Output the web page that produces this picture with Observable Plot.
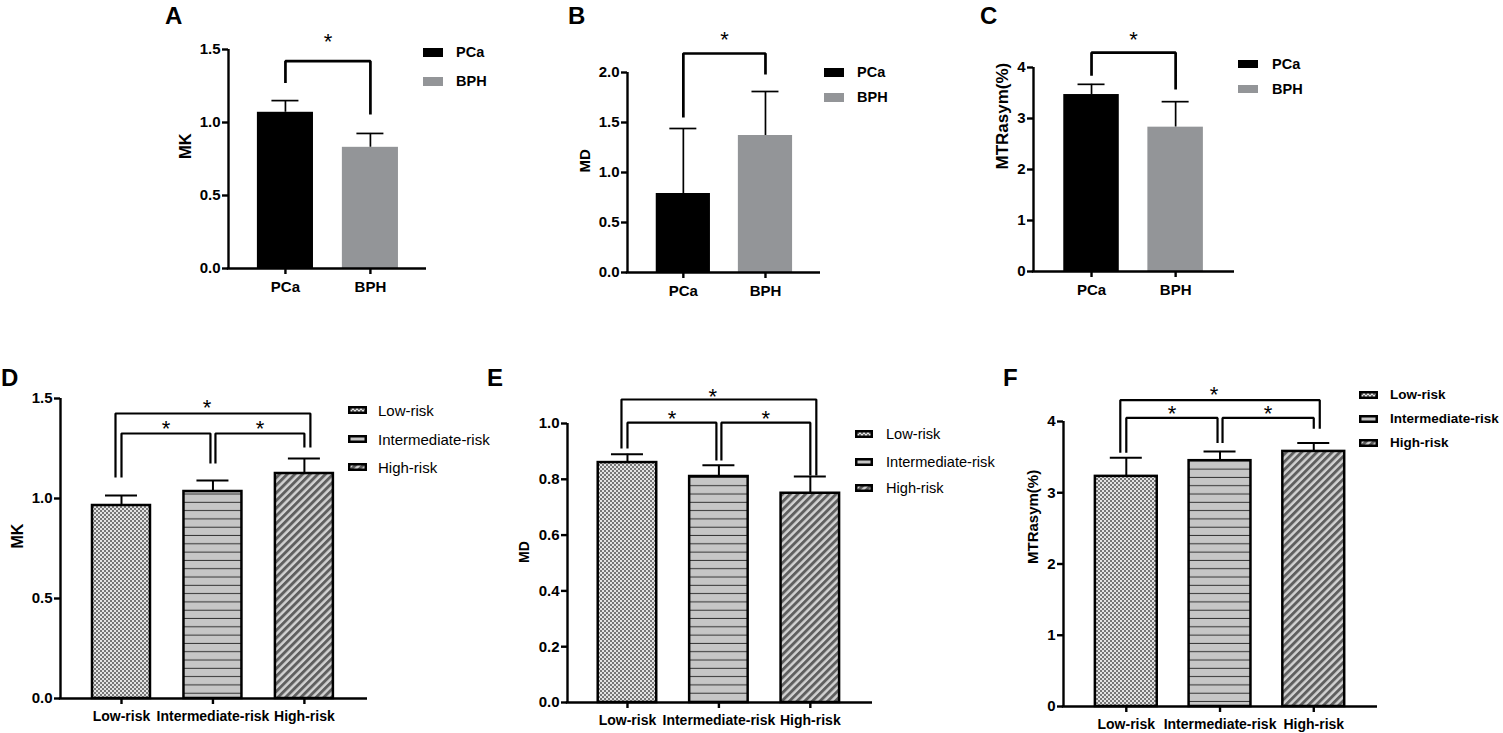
<!DOCTYPE html>
<html><head><meta charset="utf-8">
<script src="https://cdn.jsdelivr.net/npm/d3@7"></script>
<script src="https://cdn.jsdelivr.net/npm/@observablehq/plot@0.6"></script>
<style>
body{margin:0;background:#fff;font-family:"Liberation Sans",Arial,Helvetica,sans-serif;}
#root{position:relative;width:1503px;height:733px;overflow:hidden;background:#fff;}
.abs{position:absolute;}
.letter{font-weight:bold;font-size:24px;line-height:24px;color:#000;}
.lg{white-space:nowrap;color:#000;}
</style></head><body>
<svg width="0" height="0" style="position:absolute">
<defs>
<pattern id="pLow" patternUnits="userSpaceOnUse" width="4" height="4">
<rect width="4" height="4" fill="#e4e4e4"/>
<rect width="2" height="2" fill="#777"/>
<rect x="2" y="2" width="2" height="2" fill="#777"/>
</pattern>
<pattern id="pMid" patternUnits="userSpaceOnUse" width="8" height="8.3">
<rect width="8" height="8.3" fill="#c6c6c6"/>
<rect y="7.3" width="8" height="1" fill="#333"/>
</pattern>
<pattern id="pHigh" patternUnits="userSpaceOnUse" width="5.4" height="5.4" patternTransform="rotate(45)">
<rect width="5.4" height="5.4" fill="#d2d2d2"/>
<rect width="2.9" height="5.4" fill="#5f5f5f"/>
</pattern>
</defs></svg>
<div id="root"></div>
<script>
// ---------- data ----------
const groupsTop = ["PCa", "BPH"];
const mkTop = [1.07, 0.83];
const mkTopErr = [1.15, 0.925];
const mdTop = [0.79, 1.37];
const mdTopErr = [1.44, 1.81];
const mtrTop = [3.47, 2.83];
const mtrTopErr = [3.67, 3.33];

const groupsRisk = ["Low-risk", "Intermediate-risk", "High-risk"];
const mkRisk = [0.965, 1.035, 1.125];
const mkRiskErr = [1.015, 1.09, 1.2];
const mdRisk = [0.86, 0.81, 0.75];
const mdRiskErr = [0.89, 0.85, 0.81];
const mtrRisk = [3.23, 3.45, 3.58];
const mtrRiskErr = [3.49, 3.58, 3.70];

const ticksMK = [0, 0.5, 1.0, 1.5];
const ticksMDTop = [0, 0.5, 1.0, 1.5, 2.0];
const ticksMTR = [0, 1, 2, 3, 4];
const ticksMDRisk = [0, 0.2, 0.4, 0.6, 0.8, 1.0];

// significance brackets: from group, to group, bar level, leg bottoms
const bracketsA = [{kind: "single", from: 0, to: 1, y: 1.42, yFrom: 1.27, yTo: 1.055}];
const bracketsB = [{kind: "single", from: 0, to: 1, y: 2.19, yFrom: 1.55, yTo: 1.98}];
const bracketsC = [{kind: "single", from: 0, to: 1, y: 4.29, yFrom: 3.84, yTo: 3.57}];
const bracketsD = [
  {kind: "outer", from: 0, to: 2, y: 1.425, yFrom: 1.105, yTo: 1.255},
  {kind: "left", from: 0, to: 1, y: 1.325, yFrom: 1.105, yTo: 1.175},
  {kind: "right", from: 1, to: 2, y: 1.325, yFrom: 1.175, yTo: 1.255}
];
const bracketsE = [
  {kind: "outer", from: 0, to: 2, y: 1.086, yFrom: 0.91, yTo: 0.814},
  {kind: "left", from: 0, to: 1, y: 1.003, yFrom: 0.91, yTo: 0.867},
  {kind: "right", from: 1, to: 2, y: 1.003, yFrom: 0.867, yTo: 0.814}
];
const bracketsF = [
  {kind: "outer", from: 0, to: 2, y: 4.30, yFrom: 3.56, yTo: 3.90},
  {kind: "left", from: 0, to: 1, y: 4.05, yFrom: 3.56, yTo: 3.70},
  {kind: "right", from: 1, to: 2, y: 4.05, yFrom: 3.70, yTo: 3.90}
];
const starLabel = "*";

// ---------- styles ----------
const topFills = ["#000000", "#939598"];
const riskFills = ["url(#pLow)", "url(#pMid)", "url(#pHigh)"];
const topOffsets = {single: [0, 0]};
const riskOffsets = {outer: [-6, 6], left: [0, -2.5], right: [2.5, 0]};
const root = document.getElementById("root");

function panel(c) {
  const pxX = (c.plot.r - c.plot.l) / (c.xDomain[1] - c.xDomain[0]);
  const pxY = (c.plot.b - c.plot.t) / c.yMax;
  const ux = px => px / pxX;
  const uy = px => px / pxY;
  const n = c.groups.length;
  const rows = c.groups.map((g, i) => ({i, g, v: c.values[i], e: c.errs[i], fill: c.fills[i]}));
  const segs = [];
  const stars = [];
  c.brackets.forEach((b, k) => {
    const [oa, ob] = c.offsets[b.kind];
    const xa = b.from + ux(oa), xb = b.to + ux(ob);
    segs.push({k, x: xa, y: b.yFrom}, {k, x: xa, y: b.y}, {k, x: xb, y: b.y}, {k, x: xb, y: b.yTo});
    const gap = c.starGap[b.kind];
    stars.push({x: (xa + xb) / 2 + ux((c.starDx[b.kind] || 0)), y: b.y + uy(gap - 0.25 * c.starSize)});
  });
  const ml = c.plot.l - c.box.x, mt = c.plot.t - c.box.y;
  const mr = c.box.x + c.box.w - c.plot.r, mb = c.box.y + c.box.h - c.plot.b;
  const chart = Plot.plot({
    width: c.box.w, height: c.box.h,
    marginLeft: ml, marginRight: mr, marginTop: mt, marginBottom: mb,
    style: {background: "transparent", overflow: "visible", fontFamily: '"Liberation Sans", Arial, sans-serif', color: "#000"},
    x: {type: "linear", domain: c.xDomain},
    y: {type: "linear", domain: [0, c.yMax]},
    color: {type: "identity"},
    marks: [
      Plot.ruleX(rows, {x: "i", y1: "v", y2: "e", strokeWidth: c.errW, stroke: "#000"}),
      Plot.ruleY(rows, {y: "e", x1: d => d.i - ux(c.capPx / 2), x2: d => d.i + ux(c.capPx / 2), strokeWidth: c.errW, stroke: "#000"}),
      Plot.rectY(rows, {x1: d => d.i - c.barHalf, x2: d => d.i + c.barHalf, y1: 0, y2: "v", fill: "fill",
        stroke: c.barStroke, strokeWidth: c.barStrokeW}),
      Plot.line(segs, {x: "x", y: "y", z: "k", stroke: "#000", strokeWidth: c.brW, strokeLinejoin: "miter", strokeLinecap: "butt"}),
      Plot.text(stars, {x: "x", y: "y", text: () => starLabel, fontSize: c.starSize, fill: "#000"}),
      Plot.ruleX([c.xDomain[0]], {y1: 0, y2: c.yMax, strokeWidth: c.axW, stroke: "#000"}),
      Plot.ruleY([0], {x1: c.xDomain[0] - ux(c.axW / 2), x2: c.xDomain[1], strokeWidth: c.axW, stroke: "#000"}),
      Plot.axisY({ticks: c.yTicks, tickFormat: c.yFormat, tickSize: 6, tickPadding: 2, fontSize: c.yFont,
        fontWeight: "bold", strokeWidth: c.axW, label: null}),
      Plot.axisX({ticks: d3.range(n), tickFormat: i => c.groups[i], tickSize: 6, tickPadding: c.xPad, fontSize: c.xFont,
        fontWeight: "bold", strokeWidth: c.axW, label: null}),
      Plot.text([c.ylabel], {text: d => d, frameAnchor: "left", rotate: -90, dx: -c.labelOff,
        fontSize: c.labelSize, fontWeight: "bold", fill: "#000"})
    ]
  });
  const wrap = document.createElement("div");
  wrap.className = "abs";
  wrap.style.left = c.box.x + "px";
  wrap.style.top = c.box.y + "px";
  wrap.style.width = c.box.w + "px";
  wrap.style.height = c.box.h + "px";
  wrap.appendChild(chart);
  root.appendChild(wrap);

  // panel letter
  const L = document.createElement("div");
  L.className = "abs letter";
  L.style.left = c.letter.x + "px";
  L.style.top = c.letter.y + "px";
  L.textContent = c.letter.t;
  root.appendChild(L);

  // legend
  const lg = c.legend;
  c.groups.forEach((g, i) => {
    const cy = lg.ys[i];
    const sw = document.createElementNS("http://www.w3.org/2000/svg", "svg");
    sw.setAttribute("width", lg.w);
    sw.setAttribute("height", lg.h);
    sw.style.position = "absolute";
    sw.style.left = lg.x + "px";
    sw.style.top = (cy - lg.h / 2) + "px";
    const r = document.createElementNS("http://www.w3.org/2000/svg", "rect");
    if (lg.border) {
      r.setAttribute("x", 1.25); r.setAttribute("y", 1.25);
      r.setAttribute("width", lg.w - 2.5); r.setAttribute("height", lg.h - 2.5);
      r.setAttribute("stroke", "#000"); r.setAttribute("stroke-width", 2.5);
    } else {
      r.setAttribute("width", lg.w); r.setAttribute("height", lg.h);
    }
    r.setAttribute("fill", c.fills[i]);
    sw.appendChild(r);
    root.appendChild(sw);
    const t = document.createElement("div");
    t.className = "abs lg";
    t.style.left = lg.textX + "px";
    t.style.top = (cy - lg.fs / 2) + "px";
    t.style.fontSize = lg.fs + "px";
    t.style.lineHeight = lg.fs + "px";
    t.style.fontWeight = lg.fw;
    t.textContent = g;
    root.appendChild(t);
  });
}

const topCommon = {groups: groupsTop, fills: topFills, offsets: topOffsets, barHalf: 0.33, capPx: 27, errW: 1.7,
  barStroke: "none", barStrokeW: 0, brW: 2.7, axW: 2.4, starSize: 22, starDx: {}, yFont: 15, xFont: 15, xPad: 7};
const riskCommon = {groups: groupsRisk, fills: riskFills, offsets: riskOffsets, capPx: 32, errW: 2,
  barStroke: "#000", barStrokeW: 2.5, brW: 2.2, axW: 2.4, starSize: 22, starDx: {outer: -6}, yFont: 15, xFont: 14, xPad: 7};

panel({...topCommon, box: {x: 140, y: 0, w: 330, h: 310}, plot: {l: 228, r: 426, t: 49, b: 268},
  xDomain: [-0.67, 1.66], yMax: 1.5, yTicks: ticksMK, yFormat: d3.format(".1f"),
  values: mkTop, errs: mkTopErr, brackets: bracketsA, starGap: {single: 25},
  ylabel: "MK", labelOff: 43, labelSize: 16.5, letter: {t: "A", x: 165, y: 4},
  legend: {x: 423, w: 20, h: 9, ys: [52.5, 81.5], textX: 456, fs: 14.5, fw: "bold", border: false}});

panel({...topCommon, box: {x: 530, y: 0, w: 330, h: 310}, plot: {l: 627, r: 820, t: 72, b: 272},
  xDomain: [-0.68, 1.67], yMax: 2.0, yTicks: ticksMDTop, yFormat: d3.format(".1f"),
  values: mdTop, errs: mdTopErr, brackets: bracketsB, starGap: {single: 19},
  ylabel: "MD", labelOff: 42, labelSize: 15, letter: {t: "B", x: 568, y: 4},
  legend: {x: 824, w: 20, h: 9, ys: [72.5, 97.5], textX: 857, fs: 14.5, fw: "bold", border: false}});

panel({...topCommon, box: {x: 960, y: 0, w: 320, h: 310}, plot: {l: 1033, r: 1234, t: 67, b: 271},
  xDomain: [-0.69, 1.70], yMax: 4, yTicks: ticksMTR, yFormat: d3.format("d"),
  values: mtrTop, errs: mtrTopErr, brackets: bracketsC, starGap: {single: 18},
  ylabel: "MTRasym(%)", labelOff: 31, labelSize: 17, letter: {t: "C", x: 980, y: 4},
  legend: {x: 1238, w: 20, h: 8, ys: [64, 89], textX: 1272, fs: 14.5, fw: "bold", border: false}});

panel({...riskCommon, box: {x: 0, y: 370, w: 380, h: 363}, plot: {l: 60, r: 367, t: 398, b: 698},
  xDomain: [-0.667, 2.69], barHalf: 0.317, yMax: 1.5, yTicks: ticksMK, yFormat: d3.format(".1f"),
  values: mkRisk, errs: mkRiskErr, brackets: bracketsD, starGap: {outer: 11, left: 10, right: 10},
  ylabel: "MK", labelOff: 43, labelSize: 16, letter: {t: "D", x: 1, y: 366},
  legend: {x: 348, w: 19, h: 8, ys: [410, 439, 467], textX: 378, fs: 15, fw: "normal", border: true}});

panel({...riskCommon, box: {x: 500, y: 370, w: 390, h: 363}, plot: {l: 567, r: 872, t: 423, b: 702},
  xDomain: [-0.656, 2.68], barHalf: 0.32, yMax: 1.0, yTicks: ticksMDRisk, yFormat: d3.format(".1f"),
  values: mdRisk, errs: mdRiskErr, brackets: bracketsE, starGap: {outer: 8, left: 9, right: 9},
  ylabel: "MD", labelOff: 43, labelSize: 14, letter: {t: "E", x: 487, y: 366},
  legend: {x: 855, w: 18, h: 8, ys: [434, 462, 488], textX: 886, fs: 14.6, fw: "normal", border: true}});

panel({...riskCommon, box: {x: 1000, y: 370, w: 390, h: 363}, plot: {l: 1063, r: 1377, t: 421, b: 706},
  xDomain: [-0.67, 2.68], barHalf: 0.33, yMax: 4, yTicks: ticksMTR, yFormat: d3.format("d"),
  values: mtrRisk, errs: mtrRiskErr, brackets: bracketsF, starGap: {outer: 11, left: 9, right: 9},
  ylabel: "MTRasym(%)", labelOff: 30, labelSize: 15, letter: {t: "F", x: 1003, y: 366},
  legend: {x: 1359, w: 19, h: 8, ys: [395, 419, 443], textX: 1390, fs: 13.5, fw: "bold", border: true}});
</script>
</body></html>
